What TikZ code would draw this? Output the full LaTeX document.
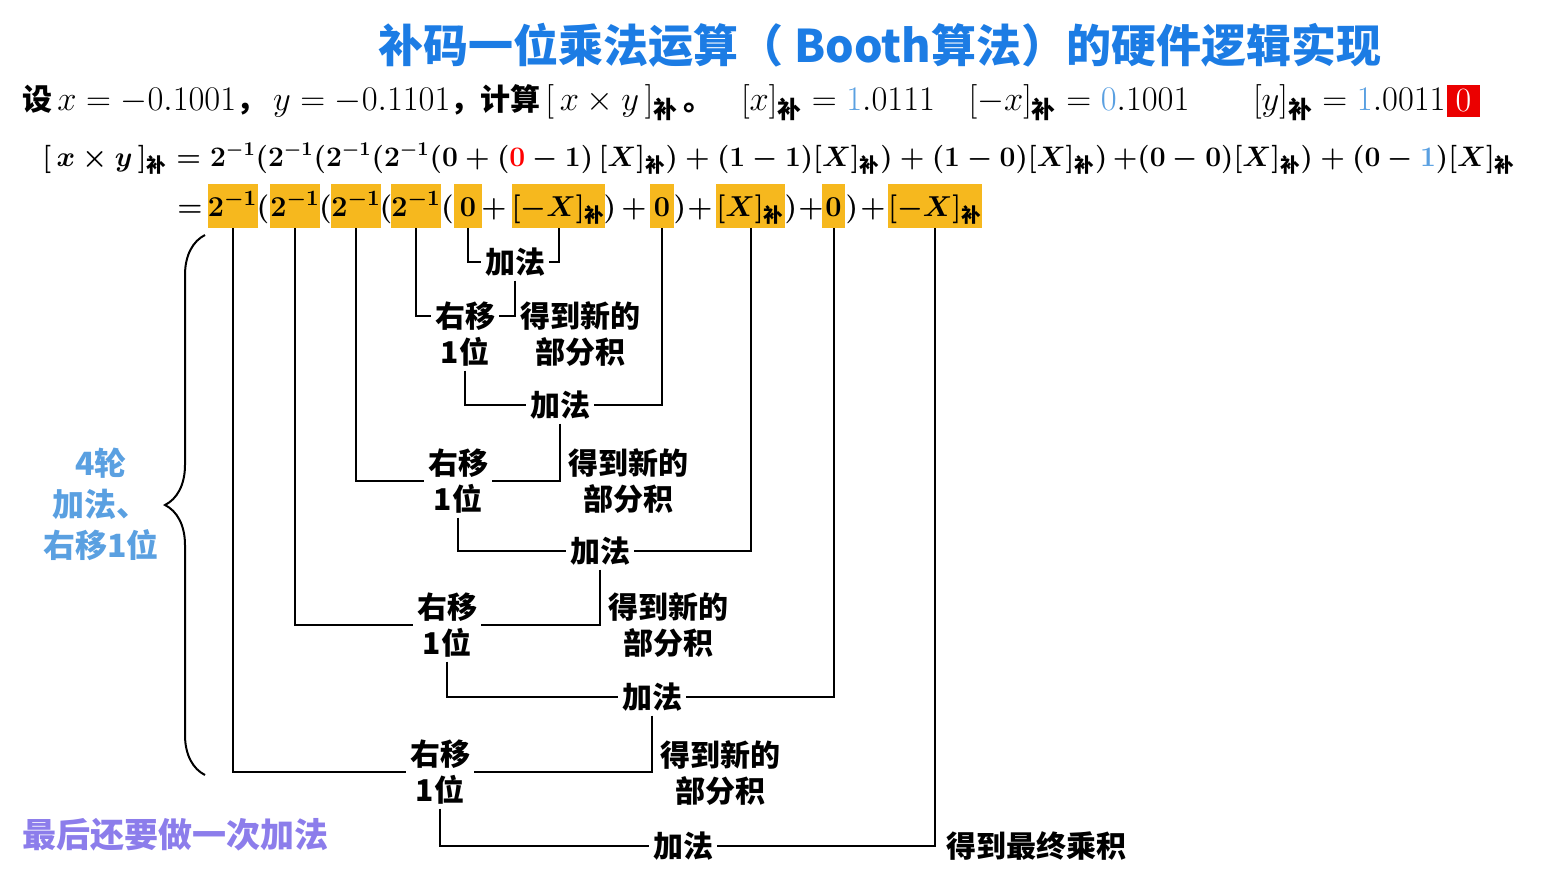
\documentclass[tikz,border=0pt]{standalone}
\usepackage{fontspec}
\usepackage{amsmath}
\usepackage{graphicx}
\usetikzlibrary{decorations.pathreplacing}
\newfontfamily\cjk{Noto Sans CJK SC}
\newcommand{\bu}{\text{\cjk\bfseries 补}}
\newcommand{\mfs}{\fontsize{17}{20}\selectfont}
\definecolor{titleblue}{RGB}{28,124,228}
\definecolor{hlorange}{RGB}{246,184,30}
\definecolor{lblue}{RGB}{90,160,225}
\definecolor{lpurple}{RGB}{140,125,235}
\definecolor{boxred}{RGB}{235,0,0}
\tikzset{
  lbl/.style={font=\cjk\bfseries\fontsize{15}{18}\selectfont, align=center, inner sep=2pt},
  hl/.style={fill=hlorange, inner xsep=0pt, inner ysep=1pt, text height=15pt, text depth=5pt, anchor=base, font=\fontsize{15}{18}\selectfont\boldmath},
  hlsmall/.style={hl, font=\fontsize{14}{18}\selectfont\boldmath},
  pc/.style={anchor=base, inner sep=0pt, font=\fontsize{15}{18}\selectfont\boldmath},
  wire/.style={line width=1pt, black},
  m1/.style={anchor=base, inner sep=0pt, font=\mfs},
}
\begin{document}
\begin{tikzpicture}[x=0.5pt,y=-0.5pt]
\useasboundingbox (0,0) rectangle (1549,875);
% title
\node[font=\cjk\bfseries\fontsize{22.5}{26}\selectfont, text=titleblue] (title) at (880,45) {补码一位乘法运算（ Booth算法）的硬件逻辑实现};
% line 1
\node[anchor=base west, inner sep=0pt, font=\cjk\bfseries\fontsize{15}{18}\selectfont] (l1a) at (22,110)
  {设\,{\mdseries\mfs$x=-0.1001$}，\ {\mdseries\mfs$y=-0.1101$}，计算\,{\mdseries\mfs$[\,x\times y\,]_{\bu}$}\,。};
\node[m1] (l1b) at (838,110) {$[x]_{\bu}={\color{lblue}1}.0111$};
\node[m1] (l1c) at (1079,110) {$[-x]_{\bu}={\color{lblue}0}.1001$};
\node[m1, anchor=base east] (l1d) at (1446,110) {$[y]_{\bu}={\color{lblue}1}.0011$};
\node[fill=boxred, text=white, minimum width=16.5pt, minimum height=16pt, inner sep=0pt, font=\mfs] (l1e) at (1463.5,101) {0};
% line 2
\node[anchor=base west, inner sep=0pt, font=\fontsize{14.4}{18}\selectfont\boldmath] (l2) at (42,166)
  {\resizebox{736.5pt}{!}{$[\,x\times y\,]_{\bu}=2^{-1}(2^{-1}(2^{-1}(2^{-1}(0+({\color{red}0}-1)\,[X]_{\bu})+(1-1)[X]_{\bu})+(1-0)[X]_{\bu})\,{+}(0-0)[X]_{\bu})+(0-{\color{lblue}1})[X]_{\bu}$}};
% line 3
\node[pc] (p0) at (190,216) {$=$};
\node[hl, minimum width=25pt] (h1) at (232.5,216) {$2^{-1}$};
\node[pc] (p1) at (263,216) {$($};
\node[hl, minimum width=25pt] (h2) at (295,216) {$2^{-1}$};
\node[pc] (p2) at (325.5,216) {$($};
\node[hl, minimum width=24.5pt] (h3) at (356,216) {$2^{-1}$};
\node[pc] (p3) at (386,216) {$($};
\node[hl, minimum width=24.5pt] (h4) at (416,216) {$2^{-1}$};
\node[pc] (p4) at (447.5,216) {$($};
\node[hl, minimum width=14pt] (h5) at (468,216) {$0$};
\node[pc] (p5) at (494,216) {$+$};
\node[hlsmall, minimum width=46.5pt] (h6) at (558.5,216) {$[-X]_{\bu}$};
\node[pc] (p6) at (610,216) {$)$};
\node[pc] (p7) at (634,216) {$+$};
\node[hl, minimum width=12pt] (h7) at (662,216) {$0$};
\node[pc] (p8) at (680,216) {$)$};
\node[pc] (p9) at (700,216) {$+$};
\node[hlsmall, minimum width=33.5pt] (h8) at (750.5,216) {$[X]_{\bu}$};
\node[pc] (p10) at (791,216) {$)$};
\node[pc] (p11) at (811,216) {$+$};
\node[hl, minimum width=11.5pt] (h9) at (833.5,216) {$0$};
\node[pc] (p12) at (852,216) {$)$};
\node[pc] (p13) at (873,216) {$+$};
\node[hlsmall, minimum width=47pt] (h10) at (935,216) {$[-X]_{\bu}$};
% level labels
\node[lbl] (add1) at (515,262) {加法};
\node[lbl] (rs1) at (465,334) {右移\\1位};
\node[lbl] (nd1) at (580,334) {得到新的\\部分积};
\node[lbl] (add2) at (560,405) {加法};
\node[lbl] (rs2) at (458,481) {右移\\1位};
\node[lbl] (nd2) at (628,481) {得到新的\\部分积};
\node[lbl] (add3) at (600,551) {加法};
\node[lbl] (rs3) at (447,625) {右移\\1位};
\node[lbl] (nd3) at (668,625) {得到新的\\部分积};
\node[lbl] (add4) at (652,697) {加法};
\node[lbl] (rs4) at (440,772) {右移\\1位};
\node[lbl] (nd4) at (720,773) {得到新的\\部分积};
\node[lbl] (add5) at (683,846) {加法};
\node[lbl, anchor=west] (fin) at (942,846) {得到最终乘积};
% connectors
\coordinate (j1) at (515,316);
\draw[wire] (h5.south) |- (add1.west);
\draw[wire] (h6.south) |- (add1.east);
\draw[wire] (add1.south) -- (j1) -- (rs1.east |- j1);
\draw[wire] (h4.south) |- (rs1.west |- j1);
\draw[wire] (rs1.south) |- (add2.west);
\draw[wire] (h7.south) |- (add2.east);
\draw[wire] (add2.south) |- (rs2.east);
\draw[wire] (h3.south) |- (rs2.west);
\draw[wire] (rs2.south) |- (add3.west);
\draw[wire] (h8.south) |- (add3.east);
\draw[wire] (add3.south) |- (rs3.east);
\draw[wire] (h2.south) |- (rs3.west);
\draw[wire] (rs3.south) |- (add4.west);
\draw[wire] (h9.south) |- (add4.east);
\draw[wire] (add4.south) |- (rs4.east);
\draw[wire] (h1.south) |- (rs4.west);
\draw[wire] (rs4.south) |- (add5.west);
\draw[wire] (h10.south) |- (add5.east);
% brace and side notes
\draw[wire, decorate, decoration={brace, amplitude=20pt}] (205,775) -- (205,235);
\node[font=\cjk\bfseries\fontsize{16}{20.5}\selectfont, text=lblue, align=center] (four) at (101,504) {4轮\\加法、\\右移1位};
\node[font=\cjk\bfseries\fontsize{17}{20}\selectfont, text=lpurple, anchor=west, inner sep=0pt] (last) at (22,835) {最后还要做一次加法};
\end{tikzpicture}
\end{document}
